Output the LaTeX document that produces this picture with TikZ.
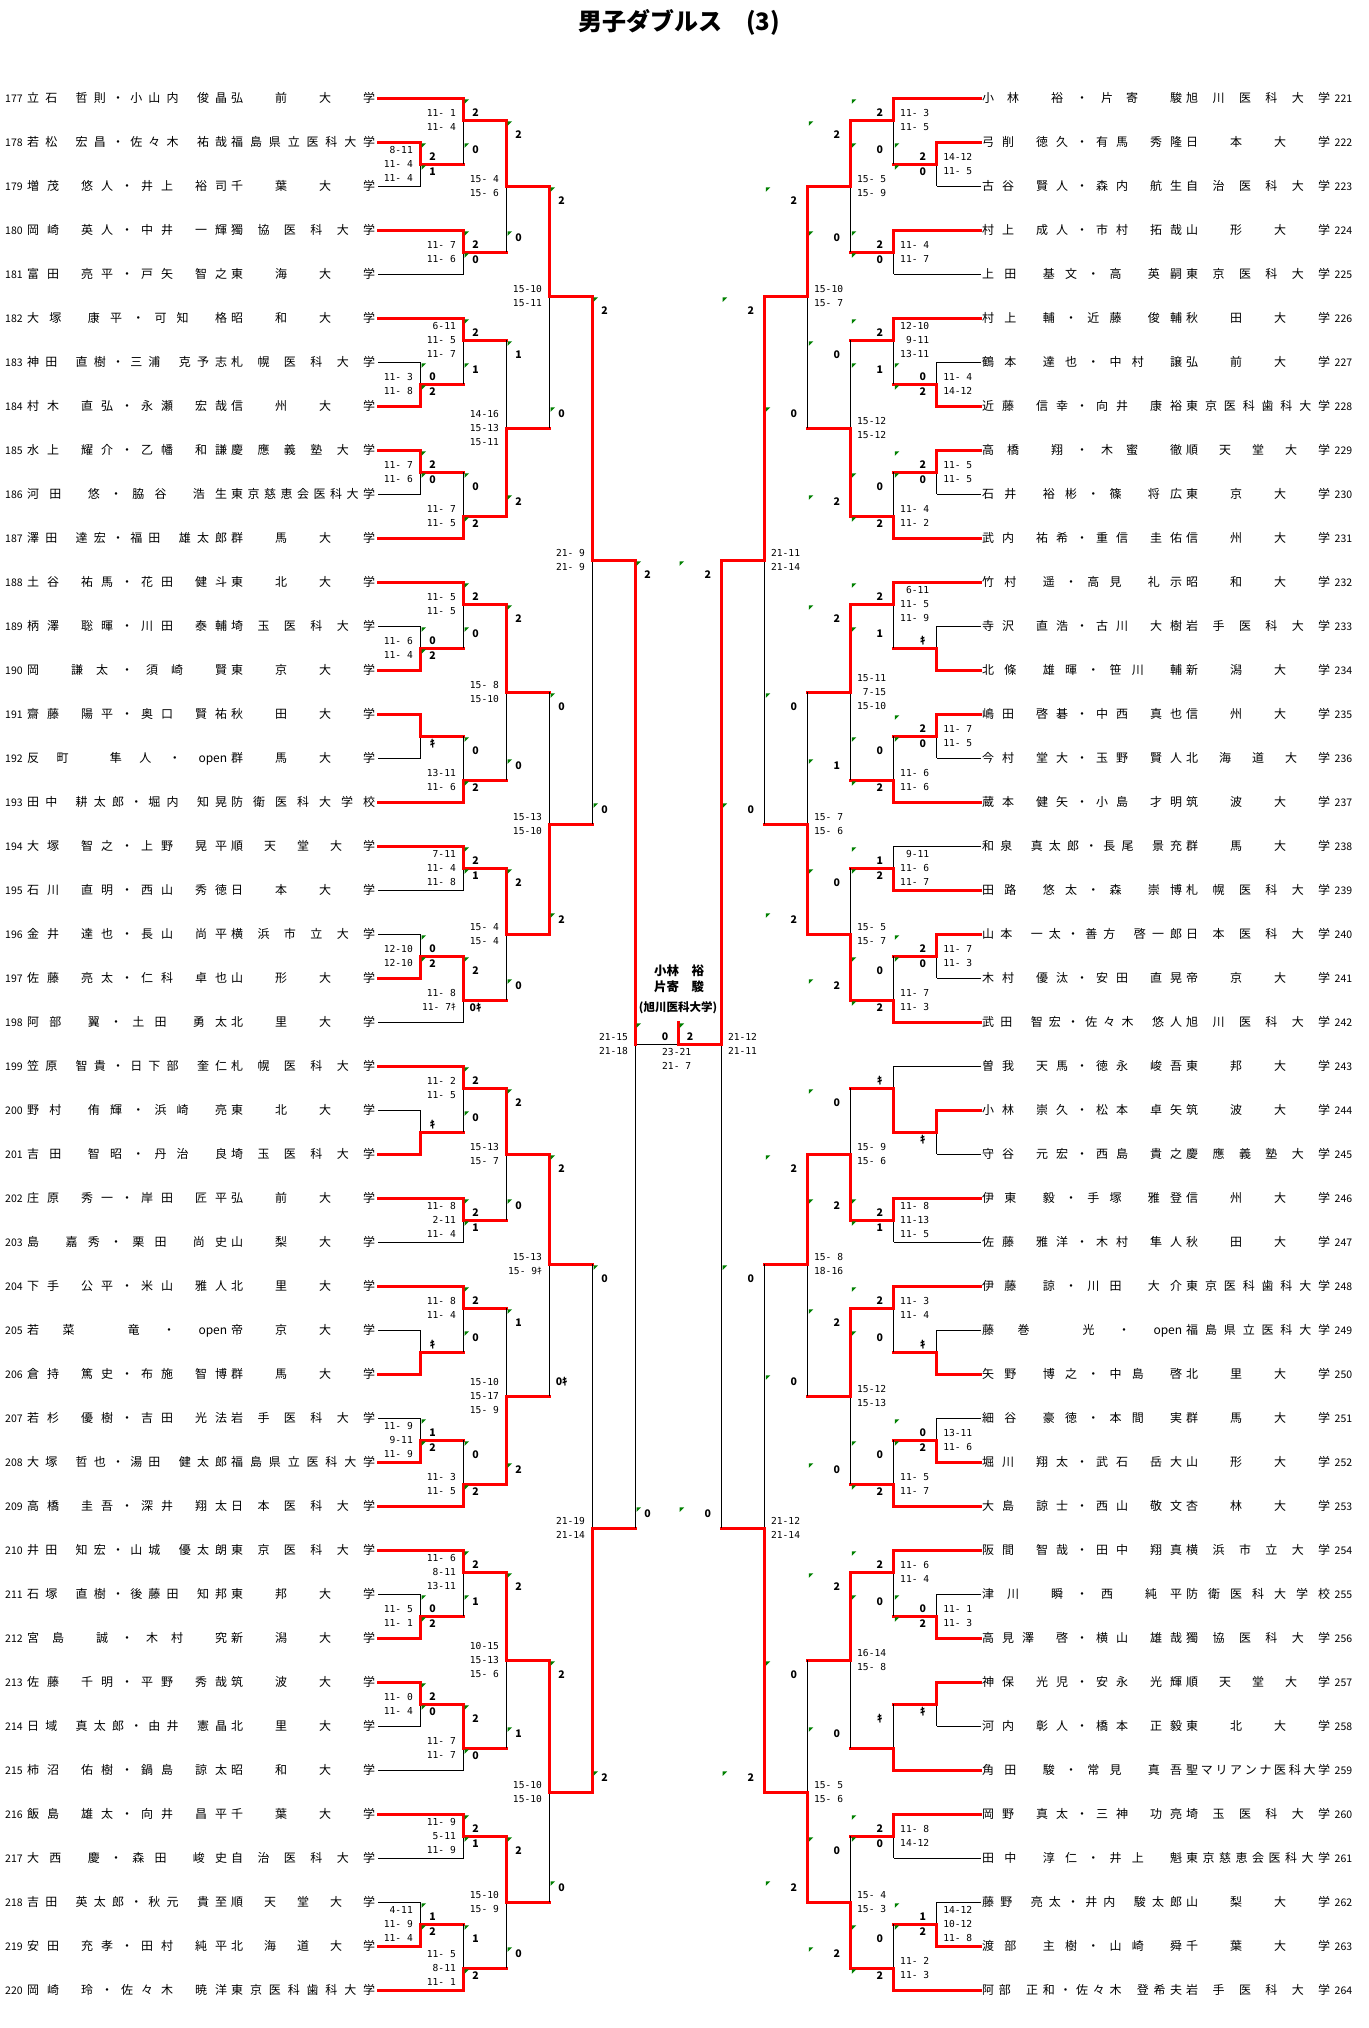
\documentclass[tikz,border=0pt]{standalone}
\usepackage{fontspec}
\usepackage{tikz}
\usetikzlibrary{calc}
\newfontfamily\jp{Noto Sans CJK JP}
\newfontfamily\mono{DejaVu Sans Mono}
\definecolor{tickgreen}{RGB}{0,128,0}

\makeatletter
% spread the tokens of #2 evenly over width #1, | is a half space
\def\sp@mark{|}
\newcommand\spreadbox[2]{\hbox to #1{\hskip 0pt plus -1fil\relax
  \@tfor\sp@tok:=#2\do{\hfil\ifx\sp@tok\sp@mark\hbox to .5em{}\else\sp@tok\fi}}}
\makeatother

\newcommand\numfont{\jp\fontsize{10.5}{10.5}\selectfont}
\newcommand\kk{{\jp ｷ}}

\tikzset{
  win/.style={red, line width=2.8pt, line cap=rect},
  lose/.style={black, line width=0.9pt},
  score/.style={font=\mono\fontsize{9.6}{14}\selectfont, inner sep=0pt},
  games/.style={font=\jp\bfseries\fontsize{10.5}{10.5}\selectfont, inner sep=0pt},
  greentick/.style={fill=tickgreen},
  namerow/.style={anchor=base west, inner sep=0pt, font=\jp\fontsize{12}{12}\selectfont},
  champ/.style={font=\jp\bfseries\fontsize{12.5}{12.5}\selectfont, inner sep=0pt},
}

\def\outsty{win}
\def\parseflags#1#2{\def\flagt{#1}\def\flagb{#2}}

% left match: column, top, bottom, out (half rows), winner t/b, scores, games top/bottom, ticks
\newcommand\lmatch[9]{%
  \pgfmathsetmacro\mcx{420.5+43.03*(#1-1)}%
  \pgfmathsetmacro\mnx{\mcx+43.03}%
  \pgfmathsetmacro\myt{98.3+22*#2}%
  \pgfmathsetmacro\myb{98.3+22*#3}%
  \pgfmathsetmacro\myo{98.3+22*#4}%
  \draw[lose] (\mcx,\myt) -- (\mcx,\myb);
  \draw[\outsty] (\mcx,\myo) -- (\mnx,\myo);
  \if#5t\draw[win] (\mcx,\myt) -- (\mcx,\myo);\else\draw[win] (\mcx,\myb) -- (\mcx,\myo);\fi
  \node[score, anchor=east, align=right] at (\mcx-7.5,\myo) {#6};
  \node[games] at (\mcx+12,\myt+14) {#7};
  \node[games] at (\mcx+12,\myb-15) {#8};
  \parseflags#9%
  \if y\flagt\fill[greentick] (\mcx+1,\myt+1) -- ++(4.5,0) -- ++(-4.5,4.5) -- cycle;\fi
  \if y\flagb\fill[greentick] (\mcx+1,\myb-21) -- ++(4.5,0) -- ++(-4.5,4.5) -- cycle;\fi
}

% right match, mirrored
\newcommand\rmatch[9]{%
  \pgfmathsetmacro\mcx{936.86-43.03*(#1-1)}%
  \pgfmathsetmacro\mnx{\mcx-43.03}%
  \pgfmathsetmacro\myt{98.3+22*#2}%
  \pgfmathsetmacro\myb{98.3+22*#3}%
  \pgfmathsetmacro\myo{98.3+22*#4}%
  \draw[lose] (\mcx,\myt) -- (\mcx,\myb);
  \draw[\outsty] (\mcx,\myo) -- (\mnx,\myo);
  \if#5t\draw[win] (\mcx,\myt) -- (\mcx,\myo);\else\draw[win] (\mcx,\myb) -- (\mcx,\myo);\fi
  \node[score, anchor=east, align=right] at (\mcx+35.5,\myo) {#6};
  \node[games] at (\mcx-14,\myt+14) {#7};
  \node[games] at (\mcx-14,\myb-15) {#8};
  \parseflags#9%
  \if y\flagt\fill[greentick] (\mnx+1,\myt+1) -- ++(4.5,0) -- ++(-4.5,4.5) -- cycle;\fi
  \if y\flagb\fill[greentick] (\mnx+1,\myb-21) -- ++(4.5,0) -- ++(-4.5,4.5) -- cycle;\fi
}

% entry rows: number, names, school, first column, line style
\newcommand\rowL[5]{%
  \pgfmathsetmacro\ryy{98.3+44*(#1-177)}%
  \pgfmathsetmacro\mcx{420.5+43.03*(#4-1)}%
  \node[namerow] (p#1) at (5,\ryy+4.5) {\hbox to 22pt{\numfont #1\hss}\spreadbox{200pt}{#2}\hskip4pt\spreadbox{144pt}{#3}};
  \draw[#5] ($(p#1.base east)+(3,-4.5)$) -- (\mcx,\ryy);
}
\newcommand\rowR[5]{%
  \pgfmathsetmacro\ryy{98.3+44*(#1-221)}%
  \pgfmathsetmacro\mcx{936.86-43.03*(#4-1)}%
  \node[namerow] (p#1) at (982,\ryy+4.5) {\spreadbox{200pt}{#2}\hskip4pt\spreadbox{144pt}{#3}\hbox to 22pt{\hss\numfont #1}};
  \draw[#5] ($(p#1.base west)+(-1,-4.5)$) -- (\mcx,\ryy);
}

\begin{document}
\begin{tikzpicture}[x=1pt, y=-1pt]
  \fill[white] (0,0) rectangle (1368,2028);
  \useasboundingbox (0,0) rectangle (1368,2028);

  % title
  \node[font=\jp\bfseries\fontsize{24}{24}\selectfont] (title) at (679,22) {男子ダブルス　(3)};

  % left entries
  \rowL{177}{立石|哲則・小山内|俊晶}{弘前大学}{2}{win}
  \rowL{178}{若松|宏昌・佐々木|祐哉}{福島県立医科大学}{1}{win}
  \rowL{179}{増茂|悠人・井上|裕司}{千葉大学}{1}{lose}
  \rowL{180}{岡崎|英人・中井|一輝}{獨協医科大学}{2}{win}
  \rowL{181}{富田|亮平・戸矢|智之}{東海大学}{2}{lose}
  \rowL{182}{大塚|康平・可知|格}{昭和大学}{2}{win}
  \rowL{183}{神田|直樹・三浦|克予志}{札幌医科大学}{1}{lose}
  \rowL{184}{村木|直弘・永瀬|宏哉}{信州大学}{1}{win}
  \rowL{185}{水上|耀介・乙幡|和謙}{慶應義塾大学}{1}{win}
  \rowL{186}{河田|悠・脇谷|浩生}{東京慈恵会医科大学}{1}{lose}
  \rowL{187}{澤田|達宏・福田|雄太郎}{群馬大学}{2}{win}
  \rowL{188}{土谷|祐馬・花田|健斗}{東北大学}{2}{win}
  \rowL{189}{柄澤|聡暉・川田|泰輔}{埼玉医科大学}{1}{lose}
  \rowL{190}{岡|謙太・須崎|賢}{東京大学}{1}{win}
  \rowL{191}{齋藤|陽平・奥口|賢祐}{秋田大学}{1}{win}
  \rowL{192}{反町|隼人・{open}}{群馬大学}{1}{lose}
  \rowL{193}{田中|耕太郎・堀内|知晃}{防衛医科大学校}{2}{win}
  \rowL{194}{大塚|智之・上野|晃平}{順天堂大学}{2}{win}
  \rowL{195}{石川|直明・西山|秀徳}{日本大学}{2}{lose}
  \rowL{196}{金井|達也・長山|尚平}{横浜市立大学}{1}{lose}
  \rowL{197}{佐藤|亮太・仁科|卓也}{山形大学}{1}{win}
  \rowL{198}{阿部|翼・土田|勇太}{北里大学}{2}{lose}
  \rowL{199}{笠原|智貴・日下部|奎仁}{札幌医科大学}{2}{win}
  \rowL{200}{野村|侑輝・浜崎|亮}{東北大学}{1}{lose}
  \rowL{201}{吉田|智昭・丹治|良}{埼玉医科大学}{1}{win}
  \rowL{202}{庄原|秀一・岸田|匠平}{弘前大学}{2}{win}
  \rowL{203}{島|嘉秀・栗田|尚史}{山梨大学}{2}{lose}
  \rowL{204}{下手|公平・米山|雅人}{北里大学}{2}{win}
  \rowL{205}{若菜|竜・{open}}{帝京大学}{1}{lose}
  \rowL{206}{倉持|篤史・布施|智博}{群馬大学}{1}{win}
  \rowL{207}{若杉|優樹・吉田|光法}{岩手医科大学}{1}{lose}
  \rowL{208}{大塚|哲也・湯田|健太郎}{福島県立医科大学}{1}{win}
  \rowL{209}{高橋|圭吾・深井|翔太}{日本医科大学}{2}{win}
  \rowL{210}{井田|知宏・山城|優太朗}{東京医科大学}{2}{win}
  \rowL{211}{石塚|直樹・後藤田|知邦}{東邦大学}{1}{lose}
  \rowL{212}{宮島|誠・木村|究}{新潟大学}{1}{win}
  \rowL{213}{佐藤|千明・平野|秀哉}{筑波大学}{1}{win}
  \rowL{214}{日域|真太郎・由井|憲晶}{北里大学}{1}{lose}
  \rowL{215}{柿沼|佑樹・鍋島|諒太}{昭和大学}{2}{lose}
  \rowL{216}{飯島|雄太・向井|昌平}{千葉大学}{2}{win}
  \rowL{217}{大西|慶・森田|峻史}{自治医科大学}{2}{lose}
  \rowL{218}{吉田|英太郎・秋元|貴至}{順天堂大学}{1}{lose}
  \rowL{219}{安田|充孝・田村|純平}{北海道大学}{1}{win}
  \rowL{220}{岡崎|玲・佐々木|暁洋}{東京医科歯科大学}{2}{win}

  % right entries
  \rowR{221}{小林|裕・片寄|駿}{旭川医科大学}{2}{win}
  \rowR{222}{弓削|徳久・有馬|秀隆}{日本大学}{1}{win}
  \rowR{223}{古谷|賢人・森内|航生}{自治医科大学}{1}{lose}
  \rowR{224}{村上|成人・市村|拓哉}{山形大学}{2}{win}
  \rowR{225}{上田|基文・高|英嗣}{東京医科大学}{2}{lose}
  \rowR{226}{村上|輔・近藤|俊輔}{秋田大学}{2}{win}
  \rowR{227}{鶴本|達也・中村|譲}{弘前大学}{1}{lose}
  \rowR{228}{近藤|信幸・向井|康裕}{東京医科歯科大学}{1}{win}
  \rowR{229}{高橋|翔・木蜜|徹}{順天堂大学}{1}{win}
  \rowR{230}{石井|裕彬・篠|将広}{東京大学}{1}{lose}
  \rowR{231}{武内|祐希・重信|圭佑}{信州大学}{2}{win}
  \rowR{232}{竹村|遥・高見|礼示}{昭和大学}{2}{win}
  \rowR{233}{寺沢|直浩・古川|大樹}{岩手医科大学}{1}{lose}
  \rowR{234}{北條|雄暉・笹川|輔}{新潟大学}{1}{win}
  \rowR{235}{嶋田|啓碁・中西|真也}{信州大学}{1}{win}
  \rowR{236}{今村|堂大・玉野|賢人}{北海道大学}{1}{lose}
  \rowR{237}{蔵本|健矢・小島|才明}{筑波大学}{2}{win}
  \rowR{238}{和泉|真太郎・長尾|景充}{群馬大学}{2}{lose}
  \rowR{239}{田路|悠太・森|崇博}{札幌医科大学}{2}{win}
  \rowR{240}{山本|一太・善方|啓一郎}{日本医科大学}{1}{win}
  \rowR{241}{木村|優汰・安田|直晃}{帝京大学}{1}{lose}
  \rowR{242}{武田|智宏・佐々木|悠人}{旭川医科大学}{2}{win}
  \rowR{243}{曽我|天馬・徳永|峻吾}{東邦大学}{2}{lose}
  \rowR{244}{小林|崇久・松本|卓矢}{筑波大学}{1}{win}
  \rowR{245}{守谷|元宏・西島|貴之}{慶應義塾大学}{1}{lose}
  \rowR{246}{伊東|毅・手塚|雅登}{信州大学}{2}{win}
  \rowR{247}{佐藤|雅洋・木村|隼人}{秋田大学}{2}{lose}
  \rowR{248}{伊藤|諒・川田|大介}{東京医科歯科大学}{2}{win}
  \rowR{249}{藤巻|光・{open}}{福島県立医科大学}{1}{lose}
  \rowR{250}{矢野|博之・中島|啓}{北里大学}{1}{win}
  \rowR{251}{細谷|豪徳・本間|実}{群馬大学}{1}{lose}
  \rowR{252}{堀川|翔太・武石|岳大}{山形大学}{1}{win}
  \rowR{253}{大島|諒士・西山|敬文}{杏林大学}{2}{win}
  \rowR{254}{阪間|智哉・田中|翔真}{横浜市立大学}{2}{win}
  \rowR{255}{津川|瞬・西|純平}{防衛医科大学校}{1}{lose}
  \rowR{256}{高見澤|啓・横山|雄哉}{獨協医科大学}{1}{win}
  \rowR{257}{神保|光児・安永|光輝}{順天堂大学}{1}{win}
  \rowR{258}{河内|彰人・橋本|正毅}{東北大学}{1}{lose}
  \rowR{259}{角田|駿・常見|真吾}{聖マリアンナ医科大学}{2}{win}
  \rowR{260}{岡野|真太・三神|功亮}{埼玉医科大学}{2}{win}
  \rowR{261}{田中|淳仁・井上|魁}{東京慈恵会医科大学}{2}{lose}
  \rowR{262}{藤野|亮太・井内|駿太郎}{山梨大学}{1}{lose}
  \rowR{263}{渡部|主樹・山崎|舜}{千葉大学}{1}{win}
  \rowR{264}{阿部|正和・佐々木|登希夫}{岩手医科大学}{2}{win}

  % left bracket
  \lmatch{1}{2}{4}{3}{t}{8-11\\11- 4\\11- 4}{2}{1}{yy}
  \lmatch{2}{0}{3}{1}{t}{11- 1\\11- 4}{2}{0}{yy}
  \lmatch{2}{6}{8}{7}{t}{11- 7\\11- 6}{2}{0}{yy}
  \lmatch{3}{1}{7}{4}{t}{15- 4\\15- 6}{2}{0}{yy}
  \lmatch{1}{12}{14}{13}{b}{11- 3\\11- 8}{0}{2}{yy}
  \lmatch{2}{10}{13}{11}{t}{6-11\\11- 5\\11- 7}{2}{1}{yy}
  \lmatch{1}{16}{18}{17}{t}{11- 7\\11- 6}{2}{0}{yy}
  \lmatch{2}{17}{20}{19}{b}{11- 7\\11- 5}{0}{2}{yy}
  \lmatch{3}{11}{19}{15}{b}{14-16\\15-13\\15-11}{1}{2}{yy}
  \lmatch{4}{4}{15}{9}{t}{15-10\\15-11}{2}{0}{yy}
  \lmatch{1}{24}{26}{25}{b}{11- 6\\11- 4}{0}{2}{yy}
  \lmatch{2}{22}{25}{23}{t}{11- 5\\11- 5}{2}{0}{yy}
  \lmatch{1}{28}{30}{29}{t}{}{}{ｷ}{nn}
  \lmatch{2}{29}{32}{31}{b}{13-11\\11- 6}{0}{2}{yy}
  \lmatch{3}{23}{31}{27}{t}{15- 8\\15-10}{2}{0}{yy}
  \lmatch{2}{34}{36}{35}{t}{7-11\\11- 4\\11- 8}{2}{1}{yy}
  \lmatch{1}{38}{40}{39}{b}{12-10\\12-10}{0}{2}{yy}
  \lmatch{2}{39}{42}{41}{t}{11- 8\\11- 7\kk}{2}{0ｷ}{yn}
  \lmatch{3}{35}{41}{38}{t}{15- 4\\15- 4}{2}{0}{yy}
  \lmatch{4}{27}{38}{33}{b}{15-13\\15-10}{0}{2}{yy}
  \lmatch{5}{9}{33}{21}{t}{21- 9\\21- 9}{2}{0}{yy}
  \lmatch{1}{46}{48}{47}{b}{}{ｷ}{}{nn}
  \lmatch{2}{44}{47}{45}{t}{11- 2\\11- 5}{2}{0}{yy}
  \lmatch{2}{50}{52}{51}{t}{11- 8\\2-11\\11- 4}{2}{1}{yy}
  \lmatch{3}{45}{51}{48}{t}{15-13\\15- 7}{2}{0}{yy}
  \lmatch{1}{56}{58}{57}{b}{}{ｷ}{}{nn}
  \lmatch{2}{54}{57}{55}{t}{11- 8\\11- 4}{2}{0}{yy}
  \lmatch{1}{60}{62}{61}{b}{11- 9\\9-11\\11- 9}{1}{2}{yy}
  \lmatch{2}{61}{64}{63}{b}{11- 3\\11- 5}{0}{2}{yy}
  \lmatch{3}{55}{63}{59}{b}{15-10\\15-17\\15- 9}{1}{2}{yy}
  \lmatch{4}{48}{59}{53}{t}{15-13\\15- 9\kk}{2}{0ｷ}{yn}
  \lmatch{1}{68}{70}{69}{b}{11- 5\\11- 1}{0}{2}{yy}
  \lmatch{2}{66}{69}{67}{t}{11- 6\\8-11\\13-11}{2}{1}{yy}
  \lmatch{1}{72}{74}{73}{t}{11- 0\\11- 4}{2}{0}{yy}
  \lmatch{2}{73}{76}{75}{t}{11- 7\\11- 7}{2}{0}{yy}
  \lmatch{3}{67}{75}{71}{t}{10-15\\15-13\\15- 6}{2}{1}{yy}
  \lmatch{2}{78}{80}{79}{t}{11- 9\\5-11\\11- 9}{2}{1}{yy}
  \lmatch{1}{82}{84}{83}{b}{4-11\\11- 9\\11- 4}{1}{2}{yy}
  \lmatch{2}{83}{86}{85}{b}{11- 5\\8-11\\11- 1}{1}{2}{yy}
  \lmatch{3}{79}{85}{82}{t}{15-10\\15- 9}{2}{0}{yy}
  \lmatch{4}{71}{82}{77}{t}{15-10\\15-10}{2}{0}{yy}
  \lmatch{5}{53}{77}{65}{b}{21-19\\21-14}{0}{2}{yy}
  \def\outsty{lose}
  \lmatch{6}{21}{65}{43}{t}{21-15\\21-18}{2}{0}{yy}
  \def\outsty{win}

  % right bracket
  \rmatch{1}{2}{4}{3}{t}{14-12\\11- 5}{2}{0}{yy}
  \rmatch{2}{0}{3}{1}{t}{11- 3\\11- 5}{2}{0}{yy}
  \rmatch{2}{6}{8}{7}{t}{11- 4\\11- 7}{2}{0}{yy}
  \rmatch{3}{1}{7}{4}{t}{15- 5\\15- 9}{2}{0}{yy}
  \rmatch{1}{12}{14}{13}{b}{11- 4\\14-12}{0}{2}{yy}
  \rmatch{2}{10}{13}{11}{t}{12-10\\9-11\\13-11}{2}{1}{yy}
  \rmatch{1}{16}{18}{17}{t}{11- 5\\11- 5}{2}{0}{yy}
  \rmatch{2}{17}{20}{19}{b}{11- 4\\11- 2}{0}{2}{yy}
  \rmatch{3}{11}{19}{15}{b}{15-12\\15-12}{0}{2}{yy}
  \rmatch{4}{4}{15}{9}{t}{15-10\\15- 7}{2}{0}{yy}
  \rmatch{1}{24}{26}{25}{b}{}{ｷ}{}{nn}
  \rmatch{2}{22}{25}{23}{t}{6-11\\11- 5\\11- 9}{2}{1}{yy}
  \rmatch{1}{28}{30}{29}{t}{11- 7\\11- 5}{2}{0}{yy}
  \rmatch{2}{29}{32}{31}{b}{11- 6\\11- 6}{0}{2}{yy}
  \rmatch{3}{23}{31}{27}{t}{15-11\\7-15\\15-10}{2}{1}{yy}
  \rmatch{2}{34}{36}{35}{b}{9-11\\11- 6\\11- 7}{1}{2}{yy}
  \rmatch{1}{38}{40}{39}{t}{11- 7\\11- 3}{2}{0}{yy}
  \rmatch{2}{39}{42}{41}{b}{11- 7\\11- 3}{0}{2}{yy}
  \rmatch{3}{35}{41}{38}{b}{15- 5\\15- 7}{0}{2}{yy}
  \rmatch{4}{27}{38}{33}{b}{15- 7\\15- 6}{0}{2}{yy}
  \rmatch{5}{9}{33}{21}{t}{21-11\\21-14}{2}{0}{yy}
  \rmatch{1}{46}{48}{47}{t}{}{}{ｷ}{nn}
  \rmatch{2}{44}{47}{45}{b}{}{ｷ}{}{nn}
  \rmatch{2}{50}{52}{51}{t}{11- 8\\11-13\\11- 5}{2}{1}{yy}
  \rmatch{3}{45}{51}{48}{b}{15- 9\\15- 6}{0}{2}{yy}
  \rmatch{1}{56}{58}{57}{b}{}{ｷ}{}{nn}
  \rmatch{2}{54}{57}{55}{t}{11- 3\\11- 4}{2}{0}{yy}
  \rmatch{1}{60}{62}{61}{b}{13-11\\11- 6}{0}{2}{yy}
  \rmatch{2}{61}{64}{63}{b}{11- 5\\11- 7}{0}{2}{yy}
  \rmatch{3}{55}{63}{59}{t}{15-12\\15-13}{2}{0}{yy}
  \rmatch{4}{48}{59}{53}{t}{15- 8\\18-16}{2}{0}{yy}
  \rmatch{1}{68}{70}{69}{b}{11- 1\\11- 3}{0}{2}{yy}
  \rmatch{2}{66}{69}{67}{t}{11- 6\\11- 4}{2}{0}{yy}
  \rmatch{1}{72}{74}{73}{t}{}{}{ｷ}{nn}
  \rmatch{2}{73}{76}{75}{b}{}{ｷ}{}{nn}
  \rmatch{3}{67}{75}{71}{t}{16-14\\15- 8}{2}{0}{yy}
  \rmatch{2}{78}{80}{79}{t}{11- 8\\14-12}{2}{0}{yy}
  \rmatch{1}{82}{84}{83}{b}{14-12\\10-12\\11- 8}{1}{2}{yy}
  \rmatch{2}{83}{86}{85}{b}{11- 2\\11- 3}{0}{2}{yy}
  \rmatch{3}{79}{85}{82}{b}{15- 4\\15- 3}{0}{2}{yy}
  \rmatch{4}{71}{82}{77}{b}{15- 5\\15- 6}{0}{2}{yy}
  \rmatch{5}{53}{77}{65}{b}{21-12\\21-14}{0}{2}{yy}
  \rmatch{6}{21}{65}{43}{t}{21-12\\21-11}{2}{0}{yy}

  % final
  \coordinate (fin) at (678.68,1044.3);
  \coordinate (champ) at (678.68,1022.3);
  \draw[win] (fin) -- (champ);
  \node[games] at (665,1037) {0};
  \node[games] at (690,1037) {2};
  \fill[greentick] (636.65,1023.3) -- ++(4.5,0) -- ++(-4.5,4.5) -- cycle;
  \fill[greentick] (679.68,1023.3) -- ++(4.5,0) -- ++(-4.5,4.5) -- cycle;
  \node[score, anchor=west, align=left] at (662,1059.3) {23-21\\21- 7};

  % winner
  \node[champ] (win1) at (679,971) {小林　裕};
  \node[champ] (win2) at (679,987) {片寄　駿};
  \node[champ, font=\jp\bfseries\fontsize{11.5}{11.5}\selectfont] (win3) at (678,1008) {(旭川医科大学)};
\end{tikzpicture}
\end{document}
